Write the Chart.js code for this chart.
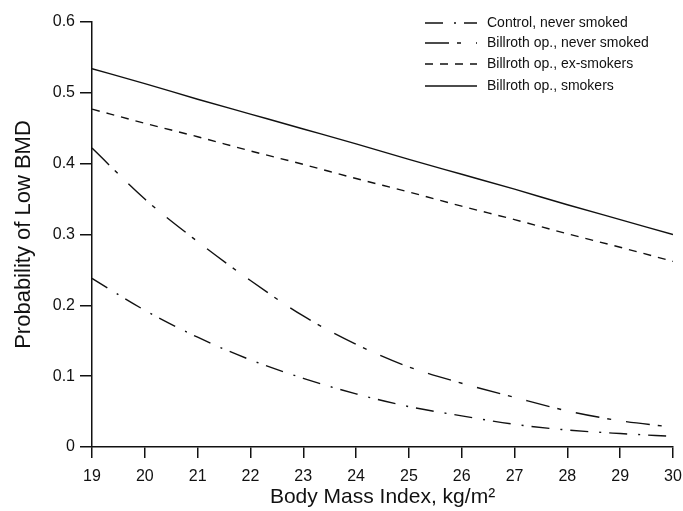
<!DOCTYPE html>
<html>
<head>
<meta charset="utf-8">
<script src="https://cdn.jsdelivr.net/npm/chart.js@4"></script>
<style>
  html, body { margin: 0; padding: 0; background: #fff; }
  #wrap { width: 683px; height: 511px; }
</style>
</head>
<body>
<div id="wrap"><canvas id="bmdChart" width="683" height="511"></canvas></div>
<script>
// Body mass index (x) and probability of low BMD per group
const bmi = [19, 20, 21, 22, 23, 24, 25, 26, 27, 28, 29, 30];
const controlNever = [0.238, 0.193, 0.155, 0.123, 0.097, 0.075, 0.057, 0.044, 0.032, 0.024, 0.019, 0.015];
const billrothNever = [0.422, 0.350, 0.290, 0.235, 0.185, 0.145, 0.113, 0.090, 0.070, 0.051, 0.037, 0.028];
const billrothEx = [0.477, 0.457, 0.438, 0.418, 0.399, 0.379, 0.360, 0.340, 0.321, 0.301, 0.282, 0.262];
const billrothSmokers = [0.534, 0.513, 0.491, 0.470, 0.449, 0.428, 0.406, 0.385, 0.364, 0.342, 0.321, 0.300];

const seriesLabels = ["Control, never smoked", "Billroth op., never smoked", "Billroth op., ex-smokers", "Billroth op., smokers"];
const dashes = [[18, 11, 2, 8], [24, 8, 4, 15], [8, 7], []];

const ink = '#111';
const font = "'Liberation Sans', Arial, Helvetica, sans-serif";

function points(values) {
    return bmi.map((x, i) => ({ x: x, y: values[i] }));
}

const allSeries = [controlNever, billrothNever, billrothEx, billrothSmokers];

// legend drawn by hand so the dash patterns show
const dashLegend = {
    id: 'dashLegend',
    afterDraw(chart) {
        const ctx = chart.ctx;
        const rows = [23, 43, 64, 86];
        ctx.save();
        ctx.strokeStyle = ink;
        ctx.fillStyle = ink;
        ctx.lineWidth = 1.4;
        ctx.font = "14px " + font;
        ctx.textBaseline = 'middle';
        seriesLabels.forEach((label, i) => {
            ctx.setLineDash(dashes[i]);
            ctx.beginPath();
            ctx.moveTo(425, rows[i]);
            ctx.lineTo(477, rows[i]);
            ctx.stroke();
            ctx.setLineDash([]);
            ctx.fillText(label, 487, rows[i]);
        });
        ctx.restore();
    }
};

const ctx = document.getElementById('bmdChart').getContext('2d');
const bmdChart = new Chart(ctx, {
    type: 'line',
    data: {
        datasets: allSeries.map((values, i) => ({
            label: seriesLabels[i],
            data: points(values),
            borderColor: ink,
            borderWidth: 1.4,
            borderDash: dashes[i],
            pointRadius: 0,
            fill: false,
            cubicInterpolationMode: 'monotone'
        }))
    },
    options: {
        responsive: false,
        animation: false,
        layout: { padding: { top: 22, right: 0, bottom: 0, left: 0 } },
        plugins: {
            legend: { display: false },
            tooltip: { enabled: false }
        },
        scales: {
            x: {
                type: 'linear',
                min: 19,
                max: 30,
                afterFit: s => { s.height = 64; s.paddingRight = 10; s.paddingLeft = 0; },
                border: { display: true, color: ink, width: 1.5 },
                grid: { drawOnChartArea: false, drawTicks: true, tickLength: 11, color: ink, lineWidth: 1.5 },
                ticks: { stepSize: 1, color: ink, padding: 9, font: { family: font, size: 16 } },
                title: {
                    display: true,
                    text: 'Body Mass Index, kg/m\u00B2',
                    color: ink,
                    padding: { top: 0, bottom: 1 },
                    font: { family: font, size: 21 }
                }
            },
            y: {
                min: 0,
                max: 0.6,
                afterFit: s => { s.width = 92; },
                border: { display: true, color: ink, width: 1.5 },
                grid: { drawOnChartArea: false, drawTicks: true, tickLength: 12, color: ink, lineWidth: 1.5 },
                ticks: { stepSize: 0.1, color: ink, padding: 5, font: { family: font, size: 16 } },
                title: {
                    display: true,
                    text: 'Probability of Low BMD',
                    color: ink,
                    padding: { top: 11, bottom: 0 },
                    font: { family: font, size: 22 }
                }
            }
        }
    },
    plugins: [dashLegend]
});
</script>
</body>
</html>
